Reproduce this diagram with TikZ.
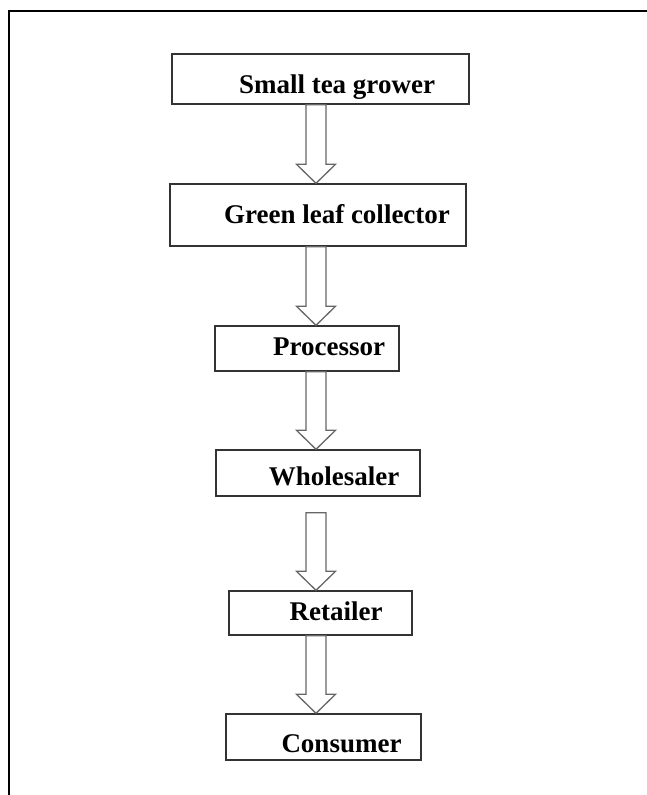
\documentclass[tikz,border=0pt]{standalone}
\usepackage{fontspec}
\setmainfont{Liberation Serif}
\usetikzlibrary{calc}
\tikzset{
    stage/.style={
        ,   draw=black!80
        ,   line width=1.4pt
        ,   fill=white
        ,   inner sep=0pt
        ,   text=black
        ,   text height=18pt
        ,   text depth=6pt
        ,   font={\fontsize{27pt}{30pt}\selectfont\bfseries}
    },
    hollowArrow/.style={
        ,   draw=black!60
        ,   line width=1.3pt
        ,   fill=white
        ,   line join=miter
    },
    frameLine/.style={
        ,   draw=black
        ,   line width=1.8pt
    }
}
% text of a box: #1 = push right, #2 = drop
\newcommand{\stageText}[3]{\hspace*{#1}\raisebox{-#2}{#3}}
% block arrow from #1 to #2, #3 = gap below #1
\newcommand{\flowArrow}[3]{
    \path (#1.south -| axis) ++(0,-#3) coordinate (top);
    \path (#2.north -| axis) coordinate (tip);
    \draw[hollowArrow] ($(top)+(-10,0)$) -- ($(tip)+(-10,19)$) -- ($(tip)+(-19.5,19)$)
        -- (tip) -- ($(tip)+(19.5,19)$) -- ($(tip)+(10,19)$) -- ($(top)+(10,0)$) -- cycle;
}

\begin{document}
\begin{tikzpicture}[x=1pt,y=1pt]
    \useasboundingbox (0,0) rectangle (647,-795);
    \draw[frameLine] (647,-11) -- (9,-11) -- (9,-795); % page frame

    \coordinate (axis) at (316,0);

    \node[stage, minimum width=297, minimum height=50] (grower) at (320.5,-79) {\stageText{33pt}{8pt}{Small tea grower}};
    \node[stage, minimum width=296, minimum height=62] (collector) at (318,-215) {\stageText{38pt}{2pt}{Green leaf collector}};
    \node[stage, minimum width=184, minimum height=45] (processor) at (307,-348.5) {\stageText{44pt}{0.5pt}{Processor}};
    \node[stage, minimum width=204, minimum height=46] (wholesaler) at (318,-473) {\stageText{32pt}{6pt}{Wholesaler}};
    \node[stage, minimum width=183, minimum height=44] (retailer) at (320.5,-613) {\stageText{31pt}{1pt}{Retailer}};
    \node[stage, minimum width=195, minimum height=46] (consumer) at (323.5,-737) {\stageText{36pt}{9pt}{Consumer}};

    \flowArrow{grower}{collector}{0}
    \flowArrow{collector}{processor}{0}
    \flowArrow{processor}{wholesaler}{0}
    \flowArrow{wholesaler}{retailer}{16}
    \flowArrow{retailer}{consumer}{0}
\end{tikzpicture}
\end{document}
